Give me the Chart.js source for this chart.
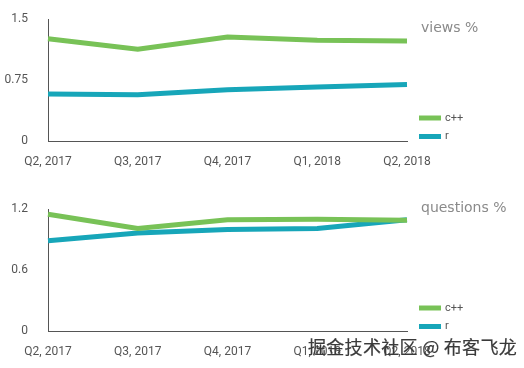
<!DOCTYPE html>
<html>
<head>
<meta charset="utf-8">
<script src="https://cdn.jsdelivr.net/npm/chart.js@4"></script>
<style>
  body { margin: 0; background: #fff; }
  .box { position: absolute; left: 0; width: 524px; height: 170px; }
  #mark { position: absolute; left: 308px; top: 333px; font: 18px "Noto Sans CJK SC"; color: #3a3a3a;
          -webkit-text-stroke: 0.2px #3a3a3a; white-space: nowrap; letter-spacing: 0.3px; }
</style>
</head>
<body>
<div class="box" style="top:0"><canvas id="viewsCanvas" width="524" height="170"></canvas></div>
<div class="box" style="top:190px"><canvas id="questionsCanvas" width="524" height="170"></canvas></div>
<div id="mark">掘金技术社区 @ 布客飞龙</div>
<script>
var quarters = ["Q2, 2017", "Q3, 2017", "Q4, 2017", "Q1, 2018", "Q2, 2018"];

var viewsCpp = [1.26, 1.13, 1.28, 1.24, 1.23];
var viewsR = [0.58, 0.57, 0.63, 0.665, 0.695];

var questionsCpp = [1.15, 1.01, 1.095, 1.10, 1.09];
var questionsR = [0.89, 0.965, 1.0, 1.01, 1.095];

var seriesNames = ["c++", "r"];
var seriesColors = ["#78c257", "#17a6b9"];

// legend + handwritten-ish title drawn at the right of each chart
function sidePlugin(title, titleY) {
  return {
    id: "side",
    afterDraw: function (chart) {
      var ctx = chart.ctx;
      ctx.save();
      ctx.fillStyle = "#8a8a8a";
      ctx.font = "14px 'DejaVu Sans'";
      ctx.textBaseline = "middle";
      ctx.fillText(title, 421, titleY);
      ctx.font = "11px Roboto";
      chart.data.datasets.forEach(function (ds, i) {
        var y = 118 + i * 18.5;
        ctx.strokeStyle = ds.borderColor;
        ctx.lineWidth = 5;
        ctx.beginPath();
        ctx.moveTo(419, y);
        ctx.lineTo(441, y);
        ctx.stroke();
        ctx.fillStyle = "#555";
        ctx.fillText(ds.label, 445, y);
      });
      ctx.restore();
    }
  };
}

function makeChart(id, cpp, r, max, step, title, titleY, topPad) {
  new Chart(document.getElementById(id), {
    type: "line",
    data: {
      labels: quarters,
      datasets: [cpp, r].map(function (d, i) {
        return {
          label: seriesNames[i],
          data: d,
          borderColor: seriesColors[i],
          borderWidth: 5,
          pointRadius: 0,
          tension: 0
        };
      })
    },
    options: {
      responsive: false,
      animation: false,
      layout: { padding: { left: 0, right: 117, top: topPad, bottom: 0 } },
      plugins: { legend: { display: false }, tooltip: { enabled: false } },
      scales: {
        x: {
          offset: false,
          grid: { display: false },
          border: { display: true, color: "#555", width: 1 },
          ticks: { color: "#555", font: { family: "Roboto", size: 12 }, padding: 6, maxRotation: 0, autoSkip: false },
          afterFit: function (s) { s.height = 29; }
        },
        y: {
          min: 0,
          max: max,
          grid: { display: false },
          border: { display: true, color: "#555", width: 1 },
          ticks: {
            stepSize: step, color: "#555", font: { family: "Roboto", size: 12 }, padding: 12,
            callback: function (v) { return String(+v.toFixed(2)); }
          },
          afterFit: function (s) { s.width = 48; }
        }
      }
    },
    plugins: [sidePlugin(title, titleY)]
  });
}

makeChart("viewsCanvas", viewsCpp, viewsR, 1.5, 0.75, "views %", 28, 17);
makeChart("questionsCanvas", questionsCpp, questionsR, 1.2, 0.6, "questions %", 18, 18);
</script>
</body>
</html>
